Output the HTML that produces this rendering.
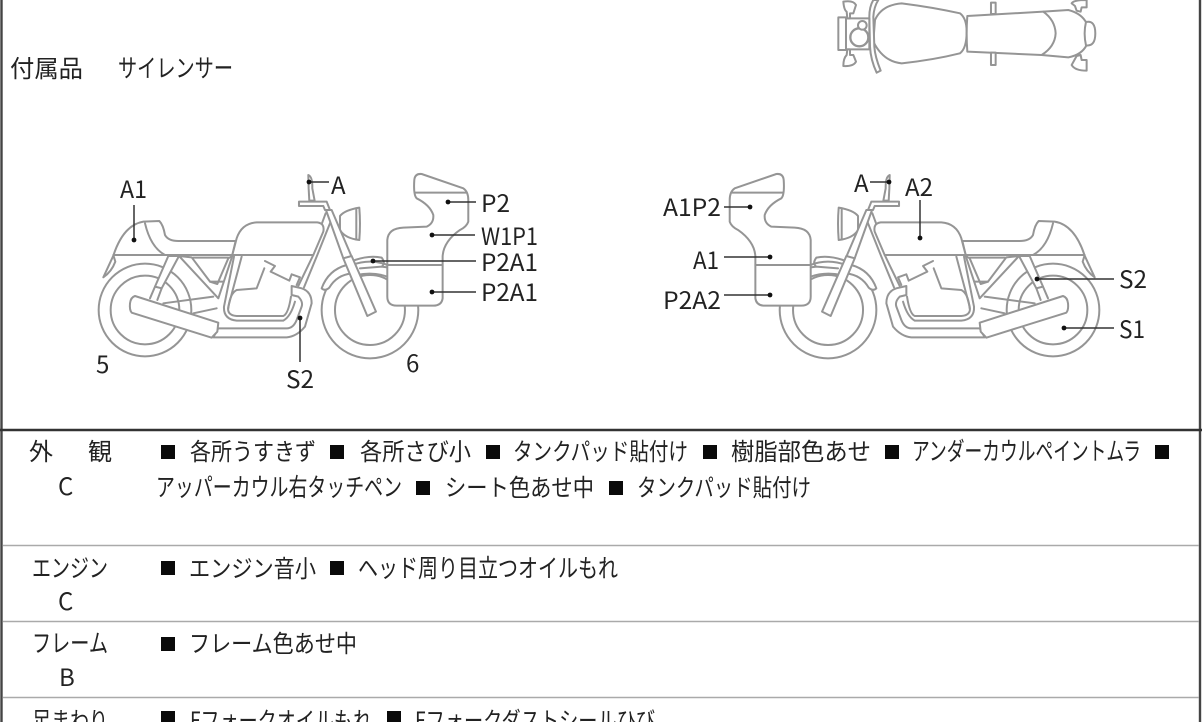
<!DOCTYPE html>
<html lang="ja"><head><meta charset="utf-8"><style>
html,body{margin:0;padding:0;background:#fff;width:1202px;height:722px;overflow:hidden}
svg{display:block}
text{font-family:"Noto Sans CJK JP",sans-serif}
.j{font-weight:400;font-size:24px;fill:#222}
.n{font-weight:400;font-size:25px;fill:#222}
.l{font-weight:400;font-size:24px;fill:#222}
.b{fill:none;stroke:#959595;stroke-width:6;stroke-linejoin:round;stroke-linecap:round}
.w{fill:#fff}
.k{stroke:#333;stroke-width:1.5;fill:none}
.d{fill:#111}
</style></head><body>
<svg width="1202" height="722" viewBox="0 0 1202 722" xmlns="http://www.w3.org/2000/svg">
<defs>
<g id="bike" class="b">
  <circle cx="195" cy="450" r="139"/><circle cx="195" cy="450" r="103"/>
  <circle cx="870" cy="450" r="145"/><circle cx="870" cy="450" r="105"/>
  <path class="w" d="M70 352 L100 287 Q130 195 190 185 L238 183 Q250 195 255 225 Q265 243 295 243 L467 243 L457 285 L100 285 L106 305 Q95 335 70 352Z"/>
  <path d="M195 190 Q212 262 255 285"/>
  <path class="w" d="M265 288 L225 380 L245 385 L297 288Z"/>
  <path d="M225 380 L210 415 M245 385 L232 420"/>
  <path class="w" d="M297 288 L415 415 L457 288 L445 295 L412 372 L390 365 L335 292Z"/>
  <path d="M340 293 L445 293 M390 365 L430 365"/>
  <path d="M250 430 L400 410 M340 460 L410 445"/>
  <path class="w" d="M457 285 L470 235 Q485 190 530 187 L712 187 Q735 190 730 215 L700 285Z"/>
  <path class="w" d="M462 290 L432 440 Q430 478 470 482 L610 482 Q630 475 650 430 L700 285 L712 285 L672 385 L640 400 L630 290Z" style="fill:none;stroke:none"/>
  <path d="M462 290 L432 440 Q430 478 470 482 L610 482 Q632 470 645 425 M485 290 L445 440 Q440 466 470 468 L610 468 Q625 462 633 410"/>
  <path d="M700 285 L655 378 M752 185 L712 285 L672 382 M737 160 L726 190"/>
  <path d="M555 303 L585 318 L572 335 L628 362 L635 343 L660 352 L650 375 M553 325 L530 385 L470 390 Q450 400 445 445"/>
  <path class="w" d="M635 378 L665 385 Q695 395 695 430 L675 500 Q650 530 620 532 L400 532 L415 505 L620 505 Q640 505 650 480 L665 440 Q670 425 655 410 L635 405Z"/>
  <path class="w" d="M165 408 L415 488 L412 515 L395 533 L155 458 Q148 450 150 430 Q152 412 165 408Z"/>
  <path d="M830 345 Q880 335 922 350"/>
  <path class="w" d="M725 385 Q745 330 800 315 L815 340 Q770 345 748 383 Q735 395 725 385Z"/>
  <path d="M825 300 Q870 285 905 293 Q918 310 905 320 L922 322 M840 325 L905 320"/>
  <path class="w" d="M780 168 Q795 150 838 143 Q842 190 838 240 Q795 235 780 210Z"/>
  <path d="M829 146 V238"/>
  <path class="w" d="M738 150 L755 150 L815 290 L790 295Z"/>
  <path class="w" d="M790 295 L815 288 L888 455 L862 468Z"/>
  <path class="w" d="M657 125 L740 125 L750 150 L735 150 L730 138 L657 138Z"/>
  <path class="w" d="M685 45 Q698 50 697 85 L704 122 L688 122 L686 85Z"/>
</g>
<g id="fair" class="b">
  <path class="w" d="M1025 42 L1150 85 Q1165 95 1165 120 L1165 185 Q1160 200 1140 210 Q1090 245 1088 290 L1088 415 Q1085 437 1060 437 L950 437 Q922 437 922 410 L922 240 Q925 205 970 203 L1040 200 Q1062 190 1060 165 Q1050 135 1010 115 Q1000 105 1003 60 Q1005 40 1025 42Z"/>
  <path d="M1005 98 L1160 98 M922 315 L1088 315"/>
</g>
</defs>

<!-- outer frame and rows -->
<path d="M1.5 0V722M1200 0V722" stroke="#444" stroke-width="2.4" fill="none"/>
<path d="M0 430H1202" stroke="#333" stroke-width="2.4"/>
<path d="M3 545.5H1199M3 621.5H1199M3 697.5H1199" stroke="#aaa" stroke-width="1.5"/>

<!-- top view -->
<g transform="translate(820 0) scale(.3333)" class="b">
  <path class="w" d="M165 60 Q185 15 245 10 Q340 22 420 40 Q440 55 440 95 Q440 145 420 160 Q340 180 245 190 Q190 185 160 125Z"/>
  <path class="w" d="M442 48 L670 35 L745 30 Q785 40 800 70 L800 135 Q785 165 745 172 L665 165 L442 155 Q438 100 442 48Z"/>
  <path class="w" d="M798 66 Q826 60 826 100 Q826 140 798 136 Q790 100 798 66Z"/>
  <path d="M670 35 Q705 60 707 100 Q705 140 665 165"/>
  <path class="w" d="M513 8 H527 V42 H513Z M513 158 H527 V195 H513Z"/>
  <path class="w" d="M755 10 Q760 0 800 0 V22 H785 L782 35 L770 32 L765 18Z M770 168 L782 165 L785 180 H800 V212 Q765 212 755 195Z"/>
  <path class="w" d="M160 0 Q148 20 148 50 L150 140 Q152 180 170 218 L182 212 Q165 170 163 140 L160 50 Q162 20 175 0Z"/>
  <path class="w" d="M55 52 H78 V150 H55Z"/>
  <path class="w" d="M78 55 H148 V148 H78Z"/>
  <path class="w" d="M70 5 Q100 0 108 15 L100 40 H90 V55 H82 L80 35 Q72 30 70 5Z M82 148 H90 V165 H100 L108 185 Q100 200 70 198 Q70 175 80 165Z"/>
  <circle class="w" cx="118" cy="112" r="27" style="stroke-width:7"/>
  <circle class="w" cx="127" cy="76" r="13"/>
</g>

<!-- left bike -->
<g transform="translate(80 160) scale(.3333)">
  <use href="#bike"/><use href="#fair"/>
</g>
<!-- right bike -->
<g transform="translate(1118 160) scale(-.3333 .3333)">
  <use href="#bike"/><use href="#fair"/>
</g>

<!-- leaders left -->
<path class="k" d="M134 205V240M309 182H329M448 202H476M432 235H475M373 261H476M432 292H476M300 318V362"/>
<g class="d"><circle cx="134" cy="240" r="2.4"/><circle cx="309" cy="182" r="2.4"/><circle cx="448" cy="202" r="2.4"/><circle cx="432" cy="235" r="2.4"/><circle cx="373" cy="261" r="2.4"/><circle cx="432" cy="292" r="2.4"/><circle cx="300" cy="318" r="2.4"/></g>
<!-- leaders right -->
<path class="k" d="M724 207H750M724 257H770M724 295H770M870 182H889M920 200V238M1037 279H1114M1064 328H1114"/>
<g class="d"><circle cx="750" cy="207" r="2.4"/><circle cx="770" cy="257" r="2.4"/><circle cx="770" cy="295" r="2.4"/><circle cx="889" cy="182" r="2.4"/><circle cx="920" cy="238" r="2.4"/><circle cx="1037" cy="279" r="2.4"/><circle cx="1064" cy="328" r="2.4"/></g>

<!-- diagram labels -->
<text class="l" x="120" y="198" textLength="27" lengthAdjust="spacingAndGlyphs">A1</text>
<text class="l" x="331" y="194">A</text>
<text class="l" x="481" y="212" textLength="29" lengthAdjust="spacingAndGlyphs">P2</text>
<text class="l" x="481" y="245" textLength="57" lengthAdjust="spacingAndGlyphs">W1P1</text>
<text class="l" x="481" y="271" textLength="57" lengthAdjust="spacingAndGlyphs">P2A1</text>
<text class="l" x="481" y="301" textLength="57" lengthAdjust="spacingAndGlyphs">P2A1</text>
<text class="l" x="96" y="373">5</text>
<text class="l" x="286" y="388" textLength="28" lengthAdjust="spacingAndGlyphs">S2</text>
<text class="l" x="406" y="372">6</text>
<text class="l" x="663" y="216" textLength="58" lengthAdjust="spacingAndGlyphs">A1P2</text>
<text class="l" x="693" y="269" textLength="26" lengthAdjust="spacingAndGlyphs">A1</text>
<text class="l" x="663" y="309" textLength="58" lengthAdjust="spacingAndGlyphs">P2A2</text>
<text class="l" x="854" y="192">A</text>
<text class="l" x="905" y="196" textLength="28" lengthAdjust="spacingAndGlyphs">A2</text>
<text class="l" x="1119" y="288" textLength="28" lengthAdjust="spacingAndGlyphs">S2</text>
<text class="l" x="1119" y="338" textLength="26" lengthAdjust="spacingAndGlyphs">S1</text>

<text class="j" x="10" y="77" textLength="73" lengthAdjust="spacingAndGlyphs">付属品</text>
<text class="n" x="118" y="77" textLength="115" lengthAdjust="spacingAndGlyphs">サイレンサー</text>

<!-- left col -->
<text class="j" x="29" y="460">外</text>
<text class="j" x="88" y="460">観</text>
<text class="j" x="58" y="495">C</text>
<text class="n" x="32" y="577" textLength="76" lengthAdjust="spacingAndGlyphs">エンジン</text>
<text class="j" x="58" y="610">C</text>
<text class="n" x="32" y="652" textLength="76" lengthAdjust="spacingAndGlyphs">フレーム</text>
<text class="j" x="59" y="686">B</text>
<text class="j" x="32" y="729" textLength="76" lengthAdjust="spacingAndGlyphs">足まわり</text>

<!-- squares -->
<g fill="#0a0a0a">
<rect x="161" y="445" width="14" height="14"/><rect x="330" y="445" width="14" height="14"/><rect x="486" y="445" width="14" height="14"/><rect x="703" y="445" width="14" height="14"/><rect x="885" y="445" width="14" height="14"/><rect x="1155" y="445" width="14" height="14"/>
<rect x="416" y="481" width="14" height="14"/><rect x="609" y="481" width="14" height="14"/>
<rect x="161" y="561" width="14" height="14"/><rect x="330" y="561" width="14" height="14"/>
<rect x="161" y="637" width="14" height="14"/>
<rect x="161" y="711" width="14" height="14"/><rect x="387" y="711" width="14" height="14"/>
</g>

<!-- row text -->
<text class="j" x="190" y="460" textLength="126" lengthAdjust="spacingAndGlyphs">各所うすきず</text>
<text class="j" x="360" y="460" textLength="111" lengthAdjust="spacingAndGlyphs">各所さび小</text>
<text class="j" x="513" y="460" textLength="175" lengthAdjust="spacingAndGlyphs">タンクパッド貼付け</text>
<text class="j" x="731" y="460" textLength="140" lengthAdjust="spacingAndGlyphs">樹脂部色あせ</text>
<text class="n" x="912" y="460" textLength="229" lengthAdjust="spacingAndGlyphs">アンダーカウルペイントムラ</text>
<text class="n" x="156" y="496" textLength="246" lengthAdjust="spacingAndGlyphs">アッパーカウル右タッチペン</text>
<text class="j" x="445" y="496" textLength="149" lengthAdjust="spacingAndGlyphs">シート色あせ中</text>
<text class="j" x="637" y="496" textLength="174" lengthAdjust="spacingAndGlyphs">タンクパッド貼付け</text>
<text class="j" x="189" y="577" textLength="127" lengthAdjust="spacingAndGlyphs">エンジン音小</text>
<text class="n" x="358" y="577" textLength="260" lengthAdjust="spacingAndGlyphs">ヘッド周り目立つオイルもれ</text>
<text class="j" x="189" y="652" textLength="168" lengthAdjust="spacingAndGlyphs">フレーム色あせ中</text>
<text class="j" x="190" y="729" textLength="182" lengthAdjust="spacingAndGlyphs">Fフォークオイルもれ</text>
<text class="j" x="415" y="729" textLength="240" lengthAdjust="spacingAndGlyphs">Fフォークダストシールひび</text>
</svg>
</body></html>
